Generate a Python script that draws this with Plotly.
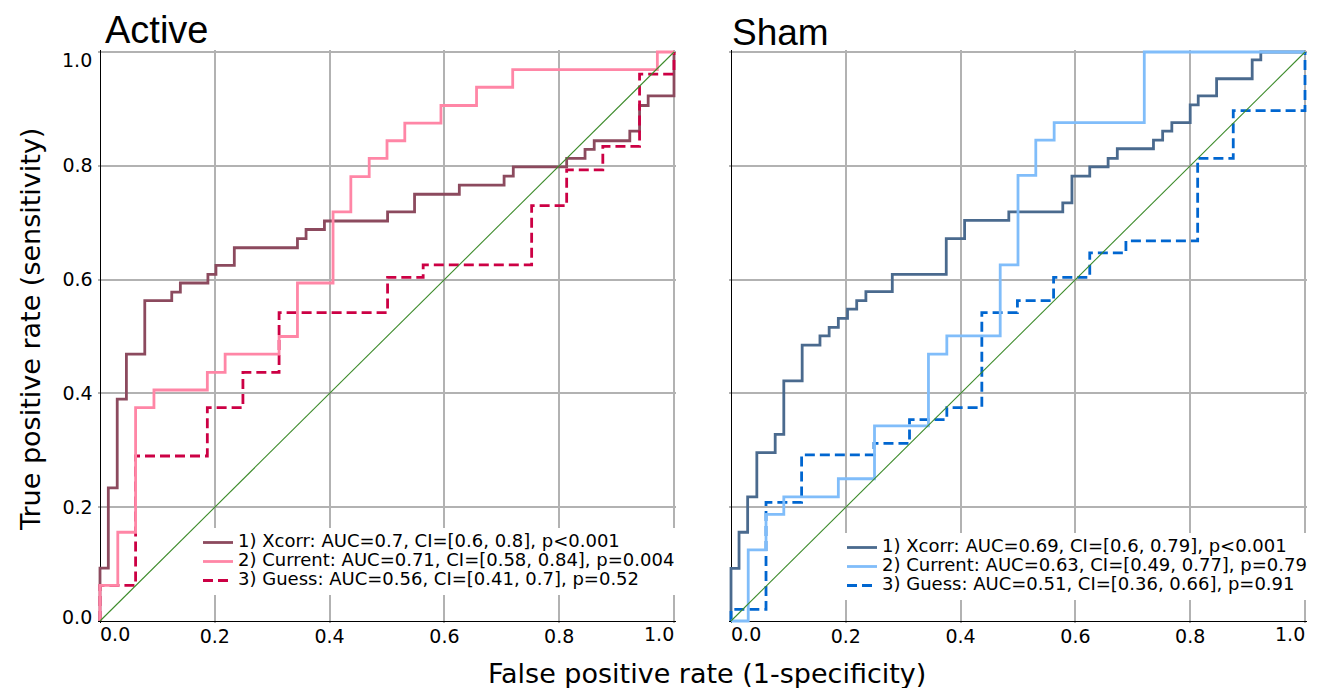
import plotly.graph_objects as go

# ---------------- data ----------------
tick_vals = [0.0, 0.2, 0.4, 0.6, 0.8, 1.0]
tick_labels = ["0.0", "0.2", "0.4", "0.6", "0.8", "1.0"]

active_xcorr_fpr = [0, 0.0145, 0.030, 0.046, 0.078, 0.125, 0.140, 0.188, 0.202, 0.234, 0.344, 0.359, 0.391,
                    0.501, 0.548, 0.626, 0.704, 0.720, 0.813, 0.845, 0.861, 0.923, 0.940, 0.955, 1.0, 1.0]
active_xcorr_tpr = [0, 0.093, 0.234, 0.390, 0.469, 0.563, 0.578, 0.594, 0.609, 0.625, 0.656, 0.672, 0.688,
                    0.703, 0.719, 0.750, 0.766, 0.782, 0.798, 0.813, 0.829, 0.844, 0.861, 0.906, 0.923, 1.0]
active_current_fpr = [0, 0.031, 0.062, 0.094, 0.187, 0.218, 0.312, 0.344, 0.406, 0.437, 0.469, 0.500, 0.531,
                      0.594, 0.656, 0.719, 0.971, 1.0]
active_current_tpr = [0, 0.0625, 0.156, 0.375, 0.406, 0.437, 0.469, 0.500, 0.594, 0.719, 0.781, 0.813, 0.844,
                      0.875, 0.906, 0.938, 0.969, 1.0]
active_guess_fpr = [0, 0.062, 0.187, 0.249, 0.312, 0.501, 0.563, 0.752, 0.813, 0.876, 0.940, 1.0, 1.0]
active_guess_tpr = [0, 0.0625, 0.290, 0.375, 0.437, 0.542, 0.604, 0.626, 0.730, 0.793, 0.834, 0.961, 1.0]

sham_xcorr_fpr = [0, 0.014, 0.029, 0.045, 0.077, 0.092, 0.124, 0.155, 0.171, 0.187, 0.203, 0.219, 0.235, 0.281,
                  0.375, 0.407, 0.484, 0.578, 0.594, 0.625, 0.657, 0.673, 0.736, 0.752, 0.768, 0.800, 0.814,
                  0.846, 0.908, 0.923, 1.0]
sham_xcorr_tpr = [0, 0.0925, 0.156, 0.218, 0.296, 0.328, 0.422, 0.485, 0.501, 0.516, 0.532, 0.548, 0.563, 0.579,
                  0.609, 0.672, 0.704, 0.719, 0.735, 0.782, 0.798, 0.813, 0.830, 0.845, 0.861, 0.876, 0.907,
                  0.923, 0.953, 0.986, 1.0]
sham_current_fpr = [0, 0.030, 0.061, 0.092, 0.187, 0.250, 0.344, 0.376, 0.469, 0.500, 0.531, 0.563, 0.720, 1.0]
sham_current_tpr = [0, 0, 0.125, 0.1875, 0.218, 0.250, 0.343, 0.469, 0.501, 0.626, 0.783, 0.845, 0.876, 1.0]
sham_guess_fpr = [0, 0.061, 0.123, 0.249, 0.311, 0.376, 0.437, 0.499, 0.562, 0.625, 0.688, 0.813, 0.875, 1.0, 1.0]
sham_guess_tpr = [0, 0.0205, 0.2085, 0.292, 0.312, 0.354, 0.375, 0.542, 0.563, 0.604, 0.647, 0.668, 0.813,
                  0.897, 1.0]

chance_line = [0, 1]

active_labels = ["1) Xcorr: AUC=0.7, CI=[0.6, 0.8], p&lt;0.001",
                 "2) Current: AUC=0.71, CI=[0.58, 0.84], p=0.004",
                 "3) Guess: AUC=0.56, CI=[0.41, 0.7], p=0.52"]
sham_labels = ["1) Xcorr: AUC=0.69, CI=[0.6, 0.79], p&lt;0.001",
               "2) Current: AUC=0.63, CI=[0.49, 0.77], p=0.79",
               "3) Guess: AUC=0.51, CI=[0.36, 0.66], p=0.91"]

# ---------------- style ----------------
W, H = 1328, 688
FONT = "DejaVu Sans"
TICK_SIZE = 19
LEG_SIZE = 18
PAD = 0.004
active_colors = ["#8c4a5e", "#ff86a6", "#cc0044"]
sham_colors = ["#4a6a8e", "#80bdfa", "#0066d0"]
LW = 2.8
DASH = "10px,5px"

def px_x(p):
    return p / W

def px_y(p):
    return 1 - p / H

# pixel positions of data 0 and 1
L_X0, L_X1 = 100, 674
R_X0, R_X1 = 731, 1305
Y0, Y1 = 621, 52
padx = PAD * (L_X1 - L_X0)
pady = PAD * (Y0 - Y1)

fig = go.Figure()

def lab(t):
    return '<span style="font-size:%dpx">%s</span>' % (LEG_SIZE, t)

def add_panel(xs, ys, names, colors, xa, ya, legend):
    order = [0, 2, 1]
    for i in order:
        fig.add_trace(go.Scatter(
            x=xs[i], y=ys[i], mode="lines", name=lab(names[i]),
            line=dict(color=colors[i], width=LW, shape="vh", dash=DASH if i == 2 else "solid"),
            xaxis=xa, yaxis=ya, legend=legend, legendrank=i + 1, hoverinfo="skip"))
    fig.add_trace(go.Scatter(x=chance_line, y=chance_line, mode="lines",
                             line=dict(color="#3d8b2b", width=1.1), showlegend=False,
                             xaxis=xa, yaxis=ya, hoverinfo="skip"))

add_panel([active_xcorr_fpr, active_current_fpr, active_guess_fpr],
          [active_xcorr_tpr, active_current_tpr, active_guess_tpr],
          active_labels, active_colors, "x", "y", "legend")
add_panel([sham_xcorr_fpr, sham_current_fpr, sham_guess_fpr],
          [sham_xcorr_tpr, sham_current_tpr, sham_guess_tpr],
          sham_labels, sham_colors, "x2", "y2", "legend2")

# interior tick labels drawn by the axes; the end labels are aligned inward (as in the reference)
inner_ticktext = [""] + tick_labels[1:-1] + [""]

def axis(**kw):
    d = dict(range=[-PAD, 1 + PAD], tickmode="array", tickvals=tick_vals, ticktext=inner_ticktext,
             showgrid=True, gridcolor="#b2b2b2",
             gridwidth=1.6, zeroline=True, zerolinecolor="black", zerolinewidth=1,
             showline=False, ticks="", tickfont=dict(family=FONT, size=TICK_SIZE, color="black"),
             automargin=False, fixedrange=True, showticklabels=True, ticklabeloverflow="allow")
    d.update(kw)
    return d

tick_font = dict(family=FONT, size=TICK_SIZE, color="black")
edge_ann = []
for xa in ["x", "x2"]:
    edge_ann.append(dict(text=tick_labels[0], x=tick_vals[0], xref=xa, y=px_y(634), yref="paper",
                         xanchor="left", yanchor="middle", xshift=-2, showarrow=False, font=tick_font))
    edge_ann.append(dict(text=tick_labels[-1], x=tick_vals[-1], xref=xa, y=px_y(634), yref="paper",
                         xanchor="right", yanchor="middle", xshift=2, showarrow=False, font=tick_font))
edge_ann.append(dict(text=tick_labels[0], y=tick_vals[0], yref="y", x=0, xref="x domain", xanchor="right",
                     yanchor="middle", xshift=-4, yshift=4, showarrow=False, font=tick_font))
edge_ann.append(dict(text=tick_labels[-1], y=tick_vals[-1], yref="y", x=0, xref="x domain", xanchor="right",
                     yanchor="middle", xshift=-4, yshift=-8, showarrow=False, font=tick_font))

ydom = [px_y(Y0 + pady), px_y(Y1 - pady)]
fig.update_layout(
    width=W, height=H, margin=dict(l=0, r=0, t=0, b=0),
    paper_bgcolor="white", plot_bgcolor="white",
    font=dict(family=FONT, color="black"),
    xaxis=axis(domain=[px_x(L_X0 - padx), px_x(L_X1 + padx)], anchor="y"),
    yaxis=axis(domain=ydom, anchor="x", ticklabelstandoff=4),
    xaxis2=axis(domain=[px_x(R_X0 - padx), px_x(R_X1 + padx)], anchor="y2"),
    yaxis2=axis(domain=ydom, anchor="x2", showticklabels=False),
    legend=dict(x=px_x(198), y=px_y(528), xanchor="left", yanchor="top", bgcolor="white",
                borderwidth=0, font=dict(family=FONT, size=12, color="black"), tracegroupgap=0,
                itemclick=False, itemdoubleclick=False),
    legend2=dict(x=px_x(842), y=px_y(533), xanchor="left", yanchor="top", bgcolor="white",
                 borderwidth=0, font=dict(family=FONT, size=12, color="black"), tracegroupgap=0,
                 itemclick=False, itemdoubleclick=False),
    annotations=edge_ann + [
        dict(text="Active", x=px_x(103), y=px_y(30), xref="paper", yref="paper", xanchor="left",
             yanchor="middle", showarrow=False, font=dict(family="Liberation Sans", size=38, color="black")),
        dict(text="Sham", x=px_x(730), y=px_y(33), xref="paper", yref="paper", xanchor="left",
             yanchor="middle", showarrow=False, font=dict(family="Liberation Sans", size=37, color="black")),
        dict(text="False positive rate (1-specificity)", x=px_x(707), y=px_y(673), xref="paper", yref="paper",
             xanchor="center", yanchor="middle", showarrow=False, font=dict(family=FONT, size=27, color="black")),
        dict(text="True positive rate (sensitivity)", x=px_x(30), y=px_y(330), xref="paper", yref="paper",
             xanchor="center", yanchor="middle", textangle=-90, showarrow=False,
             font=dict(family=FONT, size=27, color="black")),
    ],
)

fig.write_html("out.html", config={"displayModeBar": False})
